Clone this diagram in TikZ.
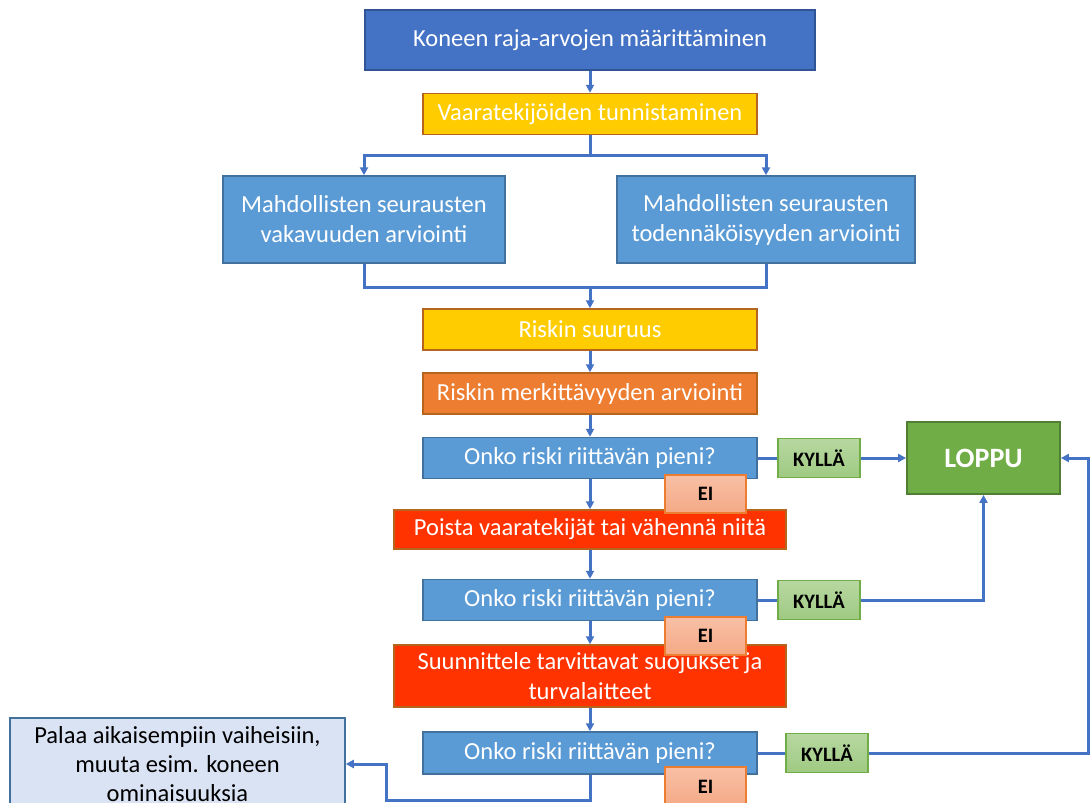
\documentclass[tikz,border=0pt]{standalone}
\usepackage{fontspec}
\setmainfont{Carlito}
\usetikzlibrary{arrows.meta}
\definecolor{linkblue}{HTML}{4472C4}
\definecolor{topfill}{HTML}{4472C4}
\definecolor{topline}{HTML}{2F5597}
\definecolor{goldfill}{HTML}{FFCC00}
\definecolor{brownline}{HTML}{B5651D}
\definecolor{orangefill}{HTML}{ED7D31}
\definecolor{askfill}{HTML}{5B9BD5}
\definecolor{askline}{HTML}{41719C}
\definecolor{redfill}{HTML}{FF3300}
\definecolor{endfill}{HTML}{70AD47}
\definecolor{endline}{HTML}{507E32}
\definecolor{yestop}{HTML}{B7D8A1}
\definecolor{yesbot}{HTML}{9FCA82}
\definecolor{notop}{HTML}{F8C0A6}
\definecolor{nobot}{HTML}{F4A985}
\definecolor{backfill}{HTML}{DAE3F3}

\begin{document}
\begin{tikzpicture}[x=1pt,y=-1pt,
  box/.style={draw,line width=1.5pt,inner sep=0pt,align=center,text=white,
    font=\fontsize{24.5}{30}\selectfont},
  wide/.style={box,minimum width=334pt,minimum height=41pt},
  gold/.style={wide,fill=goldfill,draw=brownline},
  ask/.style={wide,fill=askfill,draw=askline},
  red/.style={box,fill=redfill,draw=brownline,minimum width=392pt},
  yes/.style={draw=endfill,line width=1.2pt,top color=yestop,bottom color=yesbot,
    minimum width=82pt,minimum height=39pt,inner sep=0pt,font=\fontsize{20.5}{22}\selectfont\bfseries},
  no/.style={draw=orangefill,line width=1.2pt,top color=notop,bottom color=nobot,
    minimum width=81pt,minimum height=38pt,inner sep=0pt,font=\fontsize{20.5}{22}\selectfont\bfseries},
  line/.style={draw=linkblue,line width=3pt},
  conn/.style={line,-{Triangle[length=8pt,width=8pt]}}
]
\clip (0,0) rectangle (1090,803);
\fill[white] (0,0) rectangle (1090,803);

% main column
\node[box,fill=topfill,draw=topline,minimum width=450pt,minimum height=60pt] (limits) at (590,40) {Koneen raja-arvojen määrittäminen};
\node[gold] (hazards) at (590,114) {Vaaratekijöiden tunnistaminen};
\node[box,fill=askfill,draw=askline,minimum width=282pt,minimum height=87pt] (severity) at (364,219.5) {Mahdollisten seurausten\\vakavuuden arviointi};
\node[box,fill=askfill,draw=askline,minimum width=298pt,minimum height=87pt] (probability) at (766,219.5) {Mahdollisten seurausten\\todennäköisyyden arviointi};
\node[gold] (risksize) at (590,329.5) {Riskin suuruus};
\node[wide,fill=orangefill,draw=brownline] (significance) at (590,393.5) {Riskin merkittävyyden arviointi};
\node[ask] (askA) at (590,458) {Onko riski riittävän pieni?};
\node[red,minimum height=39pt] (reduce) at (590,529.5) {Poista vaaratekijät tai vähennä niitä};
\node[ask] (askB) at (590,600) {Onko riski riittävän pieni?};
\node[red,minimum height=62pt] (guards) at (590,676) {Suunnittele tarvittavat suojukset ja\\turvalaitteet};
\node[ask,minimum height=42pt] (askC) at (590,753) {Onko riski riittävän pieni?};

% side boxes
\node[draw=endline,fill=endfill,line width=1.8pt,minimum width=153pt,minimum height=72pt,
  text=white,font=\fontsize{28}{30}\selectfont\bfseries] (stop) at (983.5,458) {LOPPU};
\node[box,fill=backfill,draw=askline,text=black,minimum width=335pt,minimum height=92pt,
  font=\fontsize{24.5}{29}\selectfont] (goback) at (177.5,764) {Palaa aikaisempiin vaiheisiin,\\muuta esim. koneen\\ominaisuuksia};
\node[yes] (yesA) at (819,458) {KYLLÄ};
\node[yes] (yesB) at (819,600) {KYLLÄ};
\node[yes] (yesC) at (827,753) {KYLLÄ};

\coordinate (split) at (590,155);
\coordinate (merge) at (590,287);
\coordinate (rightturn) at (1088,458);
\coordinate (lowturn) at (386,800);

% connectors
\draw[conn] (limits) -- (hazards);
\draw[line] (hazards) -- (split);
\draw[conn] (split) -| (severity);
\draw[conn] (split) -| (probability);
\draw[line] (severity) |- (merge);
\draw[line] (probability) |- (merge);
\draw[conn] (merge) -- (risksize);
\draw[conn] (risksize) -- (significance);
\draw[conn] (significance) -- (askA);
\draw[conn] (askA) -- (reduce);
\draw[conn] (reduce) -- (askB);
\draw[conn] (askB) -- (guards);
\draw[conn] (guards) -- (askC);
\draw[line] (askA) -- (yesA);
\draw[conn] (yesA) -- (stop);
\draw[line] (askB) -- (yesB);
\draw[conn] (yesB) -| (stop);
\draw[line] (askC) -- (yesC);
\draw[conn] (yesC) -| (rightturn) -- (stop);
\draw[conn] (askC) |- (lowturn) |- (goback);

% EI labels on top
\node[no] (noA) at (705.5,494) {EI};
\node[no] (noB) at (705.5,636) {EI};
\node[no,minimum height=40pt] (noC) at (705.5,787) {EI};
\end{tikzpicture}
\end{document}
